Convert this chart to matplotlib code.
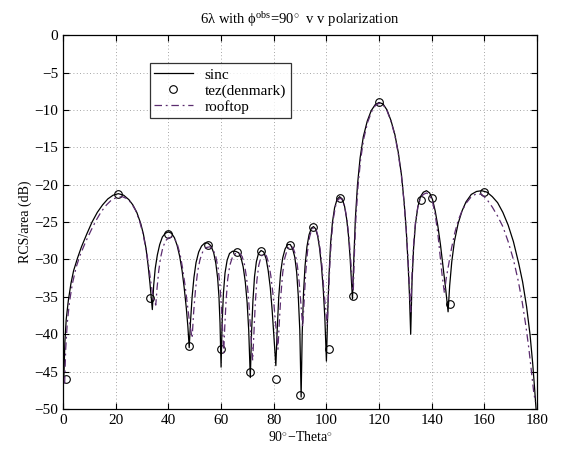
import numpy as np
import matplotlib
matplotlib.use('Agg')
import matplotlib.pyplot as plt

plt.rcParams['font.family'] = ['Liberation Serif', 'DejaVu Serif']
plt.rcParams['mathtext.fontset'] = 'custom'
plt.rcParams['mathtext.rm'] = 'Liberation Serif'
plt.rcParams['mathtext.it'] = 'Liberation Serif:italic'

# sinc (solid), read lobe by lobe
sinc_x = [0.3, 0.7, 1.2, 2, 3, 4, 5.5, 7, 9, 11, 13, 15, 17, 19, 21, 23, 25, 26.5, 28, 29.5, 30.5, 31.5, 32.3, 33, 33.5, 33.9,
          34.4, 35, 35.8, 36.7, 37.7, 38.8, 40, 41.2, 42.3, 43.3, 44.3, 45.2, 46, 46.8, 47.4, 47.9,
          48.4, 49, 49.7, 50.5, 51.5, 52.6, 53.8, 55, 56.2, 57.2, 58, 58.7, 59.2, 59.6, 60,
          60.4, 60.9, 61.5, 62.3, 63.2, 64.3, 65.5, 66.7, 67.6, 68.4, 69.2, 69.9, 70.5, 71.1,
          71.6, 72.1, 72.7, 73.4, 74.2, 75.2, 76.2, 77.1, 77.9, 78.7, 79.4, 80.1, 80.8,
          81.3, 81.9, 82.6, 83.4, 84.3, 85.3, 86.3, 87.2, 88, 88.7, 89.3, 89.9, 90.4,
          90.8, 91.3, 91.9, 92.6, 93.4, 94.3, 95.1, 95.9, 96.7, 97.4, 98.1, 98.8, 99.4, 100,
          100.5, 101, 101.6, 102.3, 103.1, 104, 105, 106, 106.9, 107.7, 108.4, 109, 109.5, 109.9,
          110.4, 111, 111.8, 112.8, 114, 115.5, 117, 118.5, 120, 121.5, 123, 124.5, 126, 127.3, 128.5, 129.5, 130.3, 131, 131.5, 132,
          132.5, 133.1, 133.8, 134.7, 135.7, 136.8, 138, 139.2, 140.3, 141.3, 142.3, 143.3, 144.3, 145.3, 146.2,
          146.8, 147.6, 148.6, 150, 151.5, 153, 155, 157, 159, 161, 163, 165, 167, 169, 171, 173, 174.5, 176, 177.3, 178.3, 179, 179.6]
sinc_y = [-45.8, -41.0, -38.0, -35.5, -33.2, -31.5, -29.8, -28.3, -26.6, -25.0, -23.7, -22.7, -21.9, -21.4, -21.2, -21.4, -22.0, -22.7, -23.7, -25.2, -26.6, -28.5, -30.8, -33.2, -35.2, -36.7,
          -33.5, -31.2, -29.4, -28.0, -27.0, -26.5, -26.3, -26.5, -27.1, -28.1, -29.6, -31.5, -33.8, -36.5, -39.0, -41.8,
          -38.3, -35.0, -32.4, -30.4, -29.0, -28.2, -27.8, -27.8, -28.2, -29.1, -30.5, -32.5, -35.0, -38.5, -44.4,
          -38.5, -34.5, -31.8, -30.1, -29.2, -28.9, -28.9, -29.1, -29.8, -31.0, -33.0, -35.8, -39.5, -45.8,
          -39.5, -35.5, -32.3, -30.3, -29.2, -28.8, -29.0, -29.9, -31.5, -33.8, -36.8, -40.5, -44.2,
          -39.5, -35.0, -31.8, -29.8, -28.6, -28.0, -28.0, -28.6, -29.7, -31.7, -34.8, -39.5, -48.4,
          -40.0, -34.5, -30.8, -28.3, -26.7, -25.8, -25.6, -25.9, -26.9, -28.5, -30.8, -34.0, -37.8, -43.6,
          -37.0, -32.0, -27.8, -25.0, -23.1, -22.0, -21.6, -21.9, -22.9, -24.6, -26.9, -29.8, -33.0, -35.3,
          -30.0, -24.5, -20.0, -16.4, -13.6, -11.5, -10.1, -9.3, -9.0, -9.2, -10.0, -11.4, -13.3, -15.7, -18.7, -22.3, -26.0, -30.5, -34.5, -40.0,
          -33.0, -28.5, -25.3, -23.0, -21.6, -21.0, -20.8, -21.1, -22.0, -23.5, -25.5, -28.0, -31.0, -34.0, -37.0,
          -33.5, -30.3, -27.6, -25.2, -23.5, -22.3, -21.3, -20.9, -20.8, -21.0, -21.6, -22.4, -23.7, -25.4, -27.6, -30.5, -33.0, -36.3, -40.0, -43.8, -47.0, -50.0]

# tez(denmark) markers
tez_x = [1, 21, 33, 40, 48, 55, 60, 66, 71, 75, 81, 86, 90, 95, 101, 105, 110, 120, 136, 140, 147, 160]
tez_y = [-46.0, -21.3, -35.2, -26.6, -41.6, -28.0, -42.0, -29.0, -45.0, -28.8, -46.0, -28.0, -48.1,
         -25.7, -42.0, -21.8, -34.9, -9.0, -22.0, -21.8, -36.0, -21.0]

# rooftop (dash-dot)
roof_x = [0.6, 1.0, 1.6, 2.4, 3.5, 5, 6.5, 8.5, 10.5, 12.5, 14.5, 16.5, 18.5, 20.5, 22.5, 24.5, 26, 27.5, 29, 30.3, 31.5, 32.5, 33.4, 34.3, 35.2,
          35.7, 36.3, 37, 37.9, 38.9, 40.1, 41.3, 42.5, 43.5, 44.5, 45.4, 46.3, 47.2, 48.1, 49,
          49.6, 50.3, 51.1, 52, 53.1, 54.4, 55.8, 57, 58, 58.9, 59.6, 60.2, 60.6, 61,
          61.4, 61.9, 62.5, 63.3, 64.3, 65.5, 66.8, 68, 68.9, 69.7, 70.4, 71, 71.5, 72,
          72.5, 73, 73.6, 74.3, 75.2, 76.2, 77.2, 78.1, 78.9, 79.7, 80.4, 81, 81.6,
          82.1, 82.7, 83.4, 84.2, 85.2, 86.3, 87.3, 88.2, 89, 89.7, 90.4, 91,
          91.5, 92.1, 92.8, 93.6, 94.4, 95.3, 96.1, 96.9, 97.6, 98.3, 98.9, 99.6, 100.3,
          100.8, 101.4, 102, 102.7, 103.5, 104.4, 105.3, 106.2, 107.1, 107.9, 108.6, 109.2, 109.7, 110.2,
          110.6, 111.2, 112, 113, 114.2, 115.7, 117.2, 118.6, 120, 121.5, 123, 124.5, 126, 127.3, 128.5, 129.5, 130.3, 131, 131.5, 132,
          132.5, 133.1, 133.8, 134.7, 135.7, 136.8, 138, 139.2, 140.3, 141.3, 142.3, 143.1, 143.9, 144.8,
          145.5, 146.5, 147.5, 148.7, 150, 151.5, 153, 155, 157, 159, 161, 163, 165, 167, 169, 171, 172.8, 174.3, 175.7, 176.9, 177.9, 178.7, 179.3]
roof_y = [-46.6, -42.0, -38.5, -35.8, -33.3, -31.0, -29.4, -27.7, -26.2, -24.8, -23.6, -22.7, -22.0, -21.7, -21.6, -21.9, -22.5, -23.4, -24.8, -26.5, -28.6, -30.8, -33.2, -35.2, -36.1,
          -33.8, -31.6, -29.8, -28.4, -27.5, -27.1, -27.0, -27.3, -28.1, -29.4, -31.2, -33.4, -36.0, -38.6, -40.5,
          -37.0, -34.0, -31.6, -30.0, -28.9, -28.4, -28.3, -28.7, -29.6, -31.2, -33.5, -36.8, -39.5, -42.5,
          -39.0, -35.5, -32.7, -30.8, -29.7, -29.2, -29.1, -29.6, -30.7, -32.5, -35.0, -38.3, -41.0, -43.5,
          -39.5, -35.8, -32.8, -30.8, -29.6, -29.2, -29.5, -30.5, -32.2, -34.6, -37.3, -39.8, -42.0,
          -38.5, -34.8, -31.8, -29.8, -28.6, -28.2, -28.4, -29.3, -30.9, -33.2, -36.3, -39.0,
          -35.8, -32.0, -29.0, -27.0, -26.0, -25.7, -26.0, -27.0, -28.6, -30.8, -33.5, -36.3, -38.7,
          -34.5, -30.0, -26.8, -24.4, -22.8, -22.0, -21.8, -22.1, -23.2, -24.9, -27.2, -29.9, -32.5, -34.3,
          -29.5, -24.5, -20.2, -16.6, -13.8, -11.6, -10.2, -9.4, -9.1, -9.3, -10.1, -11.5, -13.4, -15.9, -18.9, -22.4, -26.0, -30.0, -33.5, -37.0,
          -32.0, -28.0, -25.1, -23.0, -21.8, -21.3, -21.1, -21.4, -22.3, -24.0, -26.5, -29.3, -32.0, -34.5,
          -32.5, -30.5, -28.5, -26.5, -24.8, -23.5, -22.5, -21.6, -21.2, -21.3, -22.0, -23.0, -24.2, -25.6, -27.6, -30.0, -32.8, -35.6, -38.8, -42.0, -45.2, -47.7, -49.0]

fig = plt.figure(figsize=(5.63, 4.57), dpi=100)
ax = fig.add_axes([0.112, 0.105, 0.842, 0.818])

ax.plot(sinc_x, sinc_y, color='black', lw=0.9, label='sinc')
ax.plot(tez_x, tez_y, linestyle='none', marker='o', markersize=5.5, markerfacecolor='none',
        markeredgecolor='black', markeredgewidth=0.8, label='tez(denmark)')
ax.plot(roof_x, roof_y, color='#5b2c6f', lw=0.9, linestyle=(0, (6, 3, 1.5, 3)), label='rooftop')

ax.set_xlim(0, 180)
ax.set_ylim(-50, 0)
ax.set_xticks(np.arange(0, 181, 20))
ax.set_yticks(np.arange(-50, 1, 5))
ax.set_yticklabels(['\u221250', '\u221245', '\u221240', '\u221235', '\u221230', '\u221225',
                    '\u221220', '\u221215', '\u221210', '\u22125', '0'])
ax.grid(True, linestyle=(0, (1, 3)), color='#888888', linewidth=0.6)
ax.tick_params(direction='in', top=True, right=True, labelsize=11, length=4)
for s in ax.spines.values():
    s.set_linewidth(0.9)

ax.set_title('6\u03bb with \u03d5$^{\\mathrm{obs}}$=90$^{\\circ}$  v v polarization', fontsize=10.5, pad=8)
ax.set_xlabel('90$^{\\circ}$\u2212Theta$^{\\circ}$', fontsize=10, labelpad=2)
ax.set_ylabel('RCS/area (dB)', fontsize=10, labelpad=2)

leg = ax.legend(loc='upper left', bbox_to_anchor=(0.183, 0.925), fontsize=11, frameon=True,
                fancybox=False, edgecolor='black', handlelength=2.5, borderpad=0.3,
                labelspacing=0.15, handletextpad=0.8, borderaxespad=0)
leg.get_frame().set_linewidth(0.9)

fig.savefig('out.png', dpi=100)
